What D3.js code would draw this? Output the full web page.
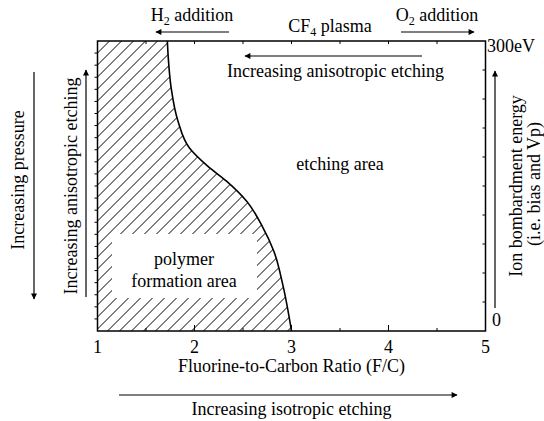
<!DOCTYPE html>
<html>
<head>
<meta charset="utf-8">
<script src="https://d3js.org/d3.v7.min.js"></script>
<style>
  html, body { margin: 0; padding: 0; background: #fff; }
</style>
</head>
<body>
<svg id="chart" width="544" height="421"></svg>
<script>
// Boundary between polymer formation and etching regimes
const ratioPts  = [1.72, 1.73, 1.76, 1.83, 1.95, 2.13, 2.33, 2.54, 2.70, 2.82, 2.91, 3.0];
const energyPts = [300, 282, 251, 217, 189, 171, 155, 134, 108, 82, 48, 0];

// Axis ticks
const xTickLabels = [1, 2, 3, 4, 5];
const xMinorTicks = [1.5, 2.5, 3.5, 4.5];
const rightTickCount = 10;
const leftTickCount = 24;

const svg = d3.select("#chart")
  .attr("font-family", "'Liberation Serif', 'DejaVu Serif', serif");
const fs = 18;

const x = d3.scaleLinear().domain([1, 5]).range([97.5, 485.5]);
const y = d3.scaleLinear().domain([0, 300]).range([331, 41]);

// Arrow marker
const defs = svg.append("defs");
defs.append("marker")
  .attr("id", "head")
  .attr("viewBox", "0 0 10 10")
  .attr("refX", 9).attr("refY", 5)
  .attr("markerWidth", 9).attr("markerHeight", 6)
  .attr("markerUnits", "userSpaceOnUse")
  .attr("orient", "auto")
  .append("path").attr("d", "M0,0 L10,5 L0,10 Z").attr("fill", "#000");

// Polymer region outline: left wall, top edge, then the boundary curve
const boundary = ratioPts.map((r, i) => [x(r), y(energyPts[i])]);
const curveGen = d3.line().curve(d3.curveMonotoneY);
const regionPath = "M" + x(1) + "," + y(0) + "L" + x(1) + "," + y(300) +
  curveGen(boundary).replace(/^M/, "L") + "Z";

defs.append("clipPath").attr("id", "polyClip")
  .append("path").attr("d", regionPath);

// Diagonal hatching inside the polymer region
const hatch = svg.append("g").attr("clip-path", "url(#polyClip)");
const span = y(0) - y(300);
const offsets = d3.range(x(1) - span, x(3.1), 12);
hatch.selectAll("line").data(offsets).join("line")
  .attr("x1", d => d).attr("y1", y(0))
  .attr("x2", d => d + span).attr("y2", y(300))
  .attr("stroke", "#000").attr("stroke-width", 1);

// Label background inside hatching
svg.append("rect")
  .attr("x", 112).attr("y", 234).attr("width", 145).attr("height", 64)
  .attr("fill", "#fff");

// Boundary curve
svg.append("path").attr("d", curveGen(boundary))
  .attr("fill", "none").attr("stroke", "#000").attr("stroke-width", 1.6);

// Frame
svg.append("rect")
  .attr("x", x(1)).attr("y", y(300))
  .attr("width", x(5) - x(1)).attr("height", y(0) - y(300))
  .attr("fill", "none").attr("stroke", "#000").attr("stroke-width", 1.5);

// Bottom ticks (inward)
const ticks = svg.append("g").attr("stroke", "#000").attr("stroke-width", 1);
ticks.selectAll(".bmaj").data([2, 3, 4]).join("line")
  .attr("x1", d => x(d)).attr("x2", d => x(d))
  .attr("y1", y(0)).attr("y2", y(0) - 6);
ticks.selectAll(".bmin").data(xMinorTicks).join("line")
  .attr("x1", d => x(d)).attr("x2", d => x(d))
  .attr("y1", y(0)).attr("y2", y(0) - 3);
// Top ticks (inward)
ticks.selectAll(".tmin").data(d3.range(1.5, 5, 0.5)).join("line")
  .attr("x1", d => x(d)).attr("x2", d => x(d))
  .attr("y1", y(300)).attr("y2", y(300) + 3);
// Right ticks
const rightVals = d3.range(1, rightTickCount).map(i => i * 300 / rightTickCount);
ticks.selectAll(".rt").data(rightVals).join("line")
  .attr("x1", x(5)).attr("x2", x(5) - 3)
  .attr("y1", d => y(d)).attr("y2", d => y(d));
// Left ticks
const leftVals = d3.range(1, leftTickCount).map(i => i * 300 / leftTickCount);
ticks.selectAll(".lt").data(leftVals).join("line")
  .attr("x1", x(1)).attr("x2", x(1) - 3)
  .attr("y1", d => y(d)).attr("y2", d => y(d));

// Bottom tick labels
svg.selectAll(".xl").data(xTickLabels).join("text")
  .attr("x", d => x(d)).attr("y", 353)
  .attr("text-anchor", "middle").attr("font-size", fs)
  .text(d => d);

svg.append("text").attr("x", 291.5).attr("y", 372)
  .attr("text-anchor", "middle").attr("font-size", fs)
  .text("Fluorine-to-Carbon Ratio (F/C)");

function arrow(x1, y1, x2, y2) {
  svg.append("line")
    .attr("x1", x1).attr("y1", y1).attr("x2", x2).attr("y2", y2)
    .attr("stroke", "#000").attr("stroke-width", 1.2)
    .attr("marker-end", "url(#head)");
}

arrow(119, 395, 457, 395);
svg.append("text").attr("x", 291.5).attr("y", 415)
  .attr("text-anchor", "middle").attr("font-size", fs)
  .text("Increasing isotropic etching");

// Top annotations
const h2 = svg.append("text").attr("x", 192).attr("y", 21)
  .attr("text-anchor", "middle").attr("font-size", fs);
h2.append("tspan").text("H");
h2.append("tspan").attr("font-size", 12).attr("dy", 4).text("2");
h2.append("tspan").attr("dy", -4).text(" addition");
arrow(229, 32, 156, 32);

const cf = svg.append("text").attr("x", 330).attr("y", 32)
  .attr("text-anchor", "middle").attr("font-size", fs);
cf.append("tspan").text("CF");
cf.append("tspan").attr("font-size", 12).attr("dy", 4).text("4");
cf.append("tspan").attr("dy", -4).text(" plasma");

const o2 = svg.append("text").attr("x", 437).attr("y", 21)
  .attr("text-anchor", "middle").attr("font-size", fs);
o2.append("tspan").text("O");
o2.append("tspan").attr("font-size", 12).attr("dy", 4).text("2");
o2.append("tspan").attr("dy", -4).text(" addition");
arrow(401, 32, 474, 32);

// Inside-frame annotations
arrow(422, 56, 245, 56);
svg.append("text").attr("x", 227).attr("y", 77)
  .attr("font-size", fs).text("Increasing anisotropic etching");

svg.append("text").attr("x", 340).attr("y", 169.5)
  .attr("text-anchor", "middle").attr("font-size", fs).text("etching area");

svg.append("text").attr("x", 184).attr("y", 265)
  .attr("text-anchor", "middle").attr("font-size", fs).text("polymer");
svg.append("text").attr("x", 184).attr("y", 287)
  .attr("text-anchor", "middle").attr("font-size", fs).text("formation area");

// Right axis labels
svg.append("text").attr("x", 487).attr("y", 52)
  .attr("font-size", fs).text("300eV");
svg.append("text").attr("x", 492).attr("y", 326)
  .attr("font-size", fs).text("0");

arrow(495, 308, 495, 71);
svg.append("text").attr("transform", "translate(522,186) rotate(-90)")
  .attr("text-anchor", "middle").attr("font-size", fs)
  .text("Ion bombardment energy");
svg.append("text").attr("transform", "translate(540,184) rotate(-90)")
  .attr("text-anchor", "middle").attr("font-size", fs)
  .text("(i.e. bias and Vp)");

// Left side annotations
arrow(34, 72, 34, 299);
svg.append("text").attr("transform", "translate(24,180) rotate(-90)")
  .attr("text-anchor", "middle").attr("font-size", fs)
  .text("Increasing pressure");

arrow(86, 297, 86, 70);
svg.append("text").attr("transform", "translate(77,186) rotate(-90)")
  .attr("text-anchor", "middle").attr("font-size", fs)
  .text("Increasing anisotropic etching");
</script>
</body>
</html>
